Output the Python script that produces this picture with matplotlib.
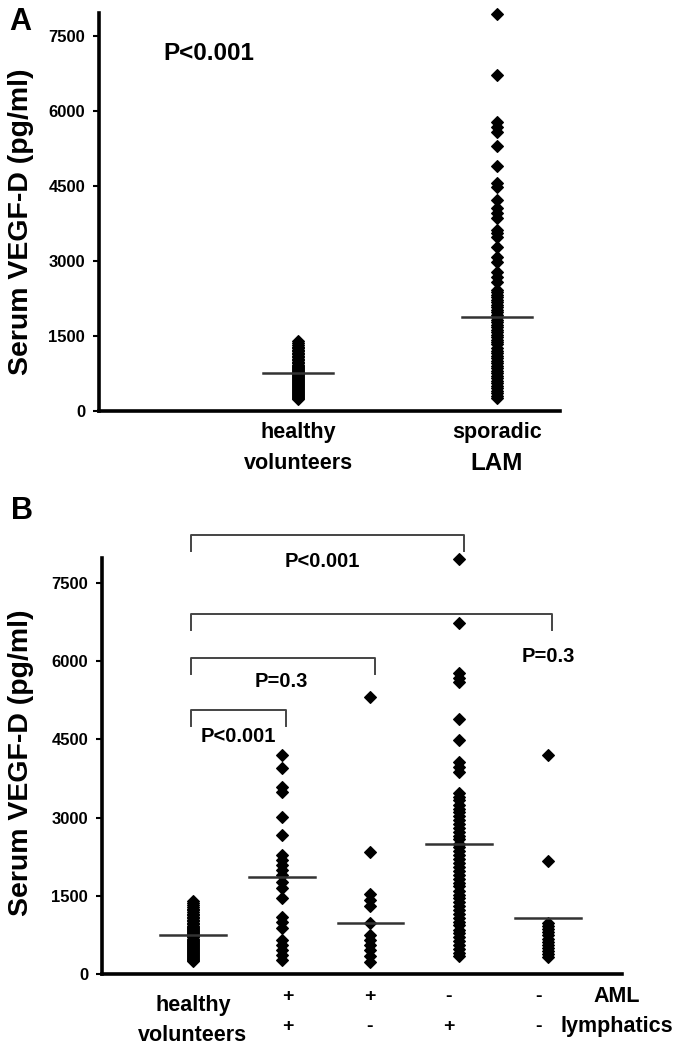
import numpy as np
import matplotlib
matplotlib.use("Agg")
import matplotlib.pyplot as plt

plt.rcParams['font.family'] = ['Liberation Sans', 'DejaVu Sans']
plt.rcParams['font.weight'] = 'bold'

# ---------------- data (pg/ml) ----------------
healthy = [1400, 1360, 1320, 1280, 1250, 1220, 1190, 1160, 1130, 1100, 1070,
           1040, 1010, 980, 950, 920, 900, 880, 860, 840, 820, 800, 780, 760,
           740, 720, 700, 680, 660, 640, 620, 600, 580, 560, 540, 520, 500,
           480, 460, 440, 420, 400, 380, 360, 340, 320, 300, 280, 260, 240]

lam = [7940, 6713, 5787, 5687, 5587, 5307, 4907, 4553, 4487, 4220, 4053, 3953,
       3853, 3620, 3553, 3473, 3287, 3087, 2987, 2787, 2687, 2587,
       2420, 2370, 2320, 2270, 2220, 2170, 2120, 2070, 2020, 1970, 1920, 1870,
       1820, 1770, 1720, 1670, 1620, 1570, 1520, 1470, 1420, 1370, 1330, 1250,
       1200, 1150, 1100, 1050, 1000, 950, 900, 850, 800, 750, 700, 650, 600,
       550, 500, 450, 400, 350, 300, 250]

aml_lymph = [4201, 3945, 3587, 3491, 3018, 2666, 2283, 2187, 2091, 1995, 1899,
             1771, 1643, 1452, 1100, 1004, 876, 652, 556, 460, 364, 269]
aml_only = [5320, 2334, 1535, 1420, 1311, 973, 748, 652, 556, 460, 345, 236]
lymph_only = [7955, 6727, 5768, 5672, 5608, 4886, 4489, 4073, 3977, 3881,
              3470, 3400, 3330, 3250, 3170, 3100, 3030, 2950, 2880, 2800, 2730,
              2650, 2580, 2500, 2430, 2350, 2280, 2200, 2130, 2050, 1980, 1900,
              1830, 1750, 1680, 1600, 1520, 1450, 1380, 1300, 1230, 1150, 1080,
              1000, 930, 850, 780, 700, 630, 550, 480, 400, 340]
neither = [4206, 2160, 972, 920, 860, 800, 740, 680, 620, 560, 500, 440, 380, 332]

medians_a = [760, 1880]
medians_b = [745, 1861, 978, 2494, 1074]

groups_a = [healthy, lam]
groups_b = [healthy, aml_lymph, aml_only, lymph_only, neither]

aml_row = ['+', '+', '-', '-']
lymph_row = ['+', '-', '+', '-']

yticks = [0, 1500, 3000, 4500, 6000, 7500]

# brackets: (group from, group to, height, label)
brackets = [(1, 4, 8420, 'P<0.001'),
            (1, 5, 6900, 'P=0.3'),
            (1, 3, 6060, 'P=0.3'),
            (1, 2, 5060, 'P<0.001')]

# ---------------- figure ----------------
fig = plt.figure(figsize=(6.8, 10.5), dpi=100)
axA = fig.add_axes([0.1456, 0.6086, 0.678, 0.379])
axB = fig.add_axes([0.15, 0.0724, 0.7647, 0.3962])


def style_axis(ax, ymax, xlim):
    ax.set_ylim(0, ymax)
    ax.set_xlim(*xlim)
    for s in ['top', 'right']:
        ax.spines[s].set_visible(False)
    for s in ['left', 'bottom']:
        ax.spines[s].set_linewidth(2.6)
    ax.set_xticks([])
    ax.set_yticks(yticks)
    ax.tick_params(axis='y', length=4, width=1.5, labelsize=12, pad=6)
    for lbl in ax.get_yticklabels():
        lbl.set_fontweight('bold')
    ax.set_ylabel('Serum VEGF-D (pg/ml)', fontsize=20.5, fontweight='bold')


def draw_groups(ax, groups, medians, half):
    for i, vals in enumerate(groups):
        x = i + 1
        ax.plot([x] * len(vals), vals, linestyle='none', marker='D', ms=6.0,
                color='black', mec='black', mew=0.8, clip_on=False, zorder=3)
        ax.plot([x - half, x + half], [medians[i], medians[i]], color='#333333',
                lw=1.8, zorder=4)


# ---- panel A ----
style_axis(axA, 7960, (0, 2.317))
draw_groups(axA, groups_a, medians_a, 0.176)
axA.yaxis.set_label_coords(-0.141, 0.475)
tA = axA.get_xaxis_transform()
axA.text(1, -0.053, 'healthy', transform=tA, ha='center', va='center', fontsize=15.5)
axA.text(1, -0.131, 'volunteers', transform=tA, ha='center', va='center', fontsize=15.5)
axA.text(2, -0.053, 'sporadic', transform=tA, ha='center', va='center', fontsize=15.5)
axA.text(2, -0.131, 'LAM', transform=tA, ha='center', va='center', fontsize=17.5)
axA.text(0.553, 7160, 'P<0.001', ha='center', va='center', fontsize=17.5)
fig.text(20 / 680, 1 - 22 / 1050, 'A', ha='center', va='center', fontsize=22)

# ---- panel B ----
style_axis(axB, 7980, (-0.025, 5.834))
draw_groups(axB, groups_b, medians_b, 0.37)
axB.yaxis.set_label_coords(-0.131, 0.507)
tB = axB.get_xaxis_transform()
axB.text(1, -0.075, 'healthy', transform=tB, ha='center', va='center', fontsize=15.5)
axB.text(1, -0.147, 'volunteers', transform=tB, ha='center', va='center', fontsize=15.5)
label_x = [2.07, 2.99, 3.88, 4.89]
for lx, a, l in zip(label_x, aml_row, lymph_row):
    axB.text(lx, -0.055, a, transform=tB, ha='center', va='center', fontsize=14)
    axB.text(lx, -0.127, l, transform=tB, ha='center', va='center', fontsize=14)
axB.text(5.78, -0.055, 'AML', transform=tB, ha='center', va='center', fontsize=15.5)
axB.text(5.78, -0.127, 'lymphatics', transform=tB, ha='center', va='center', fontsize=15.5)

drop = 300
for g1, g2, h, lab in brackets:
    axB.plot([g1 - 0.02, g1 - 0.02, g2 + 0.05, g2 + 0.05], [h - drop, h, h, h - drop],
             color='#444444', lw=1.4, clip_on=False)

ptext = [(2.46, 7903, 'P<0.001'), (5.0, 6081, 'P=0.3'),
         (1.99, 5601, 'P=0.3'), (1.51, 4546, 'P<0.001')]
for px, py, s in ptext:
    axB.text(px, py, s, ha='center', va='center', fontsize=14.5)
fig.text(22 / 680, 1 - 511 / 1050, 'B', ha='center', va='center', fontsize=22)

fig.savefig('out.png', dpi=100)
